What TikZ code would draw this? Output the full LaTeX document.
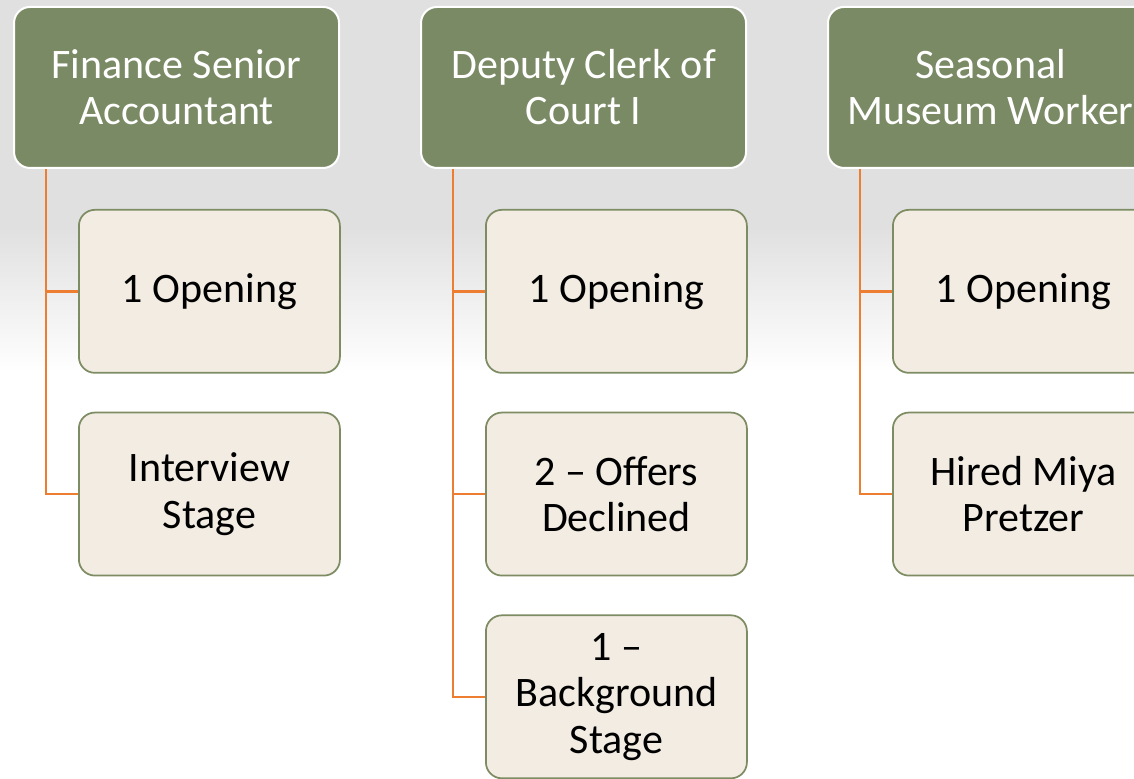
\documentclass[tikz,border=0pt]{standalone}
\usepackage{fontspec}
\setmainfont{Carlito}
\usepackage{tikz}
\usetikzlibrary{positioning}

\definecolor{headgreen}{RGB}{122,138,100}
\definecolor{childbeige}{RGB}{242,236,226}
\definecolor{childborder}{RGB}{125,140,99}
\definecolor{linkorange}{RGB}{237,125,49}
\definecolor{backgray}{RGB}{224,224,224}

\begin{document}
\begin{tikzpicture}[
            headbox/.style={rectangle, align=center, rounded corners=12pt, fill=headgreen, draw=white, line width=1.5pt,
                            text=white, minimum width=243.75pt, minimum height=120.75pt,
                            font=\fontsize{31.5}{34.5}\selectfont},
            childbox/.style={rectangle, align=center, rounded corners=12pt, fill=childbeige, draw=childborder, line width=1.3pt,
                            text=black, minimum width=195.75pt, minimum height=122.25pt,
                            font=\fontsize{31.5}{35}\selectfont},
            link/.style={draw=linkorange, line width=1.8pt},
        ]

        % Background.
        \clip (0,0) rectangle (850.5pt,-583.5pt);
        \fill[backgray] (0,0) rectangle (850.5pt,-170pt);
        \shade[top color=backgray, bottom color=white] (0,-170pt) rectangle (850.5pt,-280pt);
        \fill[white] (0,-280pt) rectangle (850.5pt,-583.5pt);

        % Nodes.
        \node[headbox] (finance) at (132.4pt,-65.6pt)        {Finance Senior\\Accountant};
        \node[headbox] (deputy)  [right=60pt of finance]     {Deputy Clerk of\\Court I};
        \node[headbox] (museum)  [right=60pt of deputy]      {Seasonal\\Museum Worker};

        \node[childbox] (finance_opening)   [below right=30pt and 48.75pt of finance.south west] {1 Opening};
        \node[childbox] (finance_interview) [below=28.5pt of finance_opening]                     {Interview\\Stage};

        \node[childbox] (deputy_opening)    [below right=30pt and 48.75pt of deputy.south west]  {1 Opening};
        \node[childbox] (deputy_declined)   [below=28.5pt of deputy_opening]                      {2 -- Offers\\Declined};
        \node[childbox] (deputy_background) [below=28.5pt of deputy_declined]                     {1 --\\Background\\Stage};

        \node[childbox] (museum_opening)    [below right=30pt and 48.75pt of museum.south west]  {1 Opening};
        \node[childbox] (museum_hired)      [below=28.5pt of museum_opening]                      {Hired Miya\\Pretzer};

        % Lines.
        \draw[link] ([xshift=24.75pt]finance.south west) |- (finance_opening.west);
        \draw[link] ([xshift=24.75pt]finance.south west) |- (finance_interview.west);
        \draw[link] ([xshift=24.75pt]deputy.south west) |- (deputy_opening.west);
        \draw[link] ([xshift=24.75pt]deputy.south west) |- (deputy_declined.west);
        \draw[link] ([xshift=24.75pt]deputy.south west) |- (deputy_background.west);
        \draw[link] ([xshift=24.75pt]museum.south west) |- (museum_opening.west);
        \draw[link] ([xshift=24.75pt]museum.south west) |- (museum_hired.west);
    \end{tikzpicture}
\end{document}
